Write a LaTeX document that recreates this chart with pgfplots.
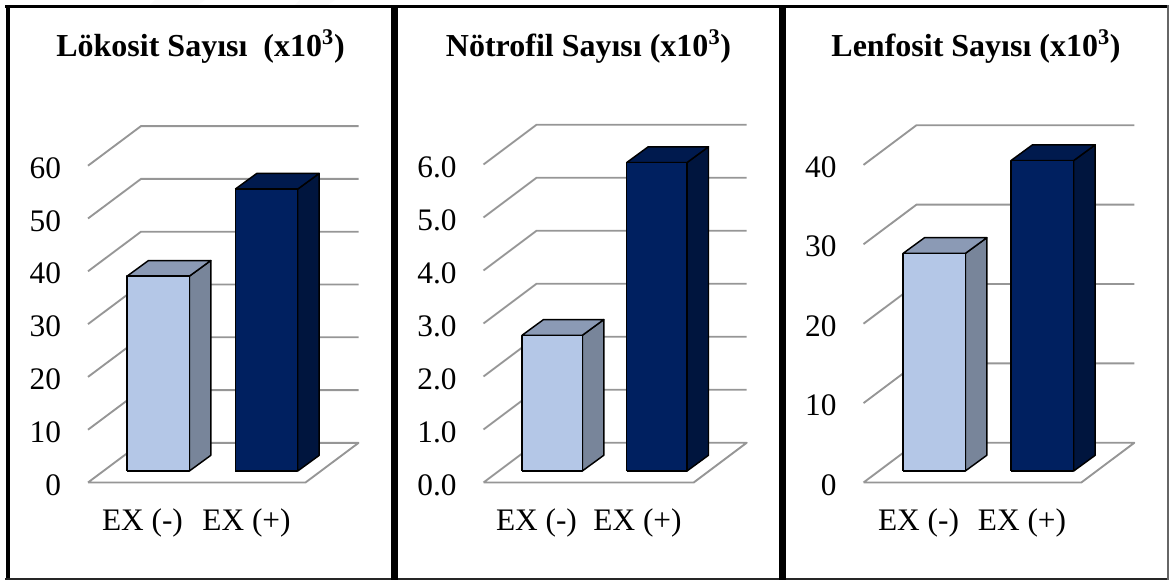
\documentclass[border=0pt]{standalone}
\usepackage{pgfplots}
\pgfplotsset{compat=1.18}
\usepackage{fontspec}
\setmainfont{Liberation Serif}

\definecolor{lightfront}{RGB}{180,199,231}
\definecolor{lightside}{RGB}{120,133,154}
\definecolor{lighttop}{RGB}{139,154,181}
\definecolor{darkfront}{RGB}{0,32,96}
\definecolor{darkside}{RGB}{0,21,62}
\definecolor{darktop}{RGB}{0,26,78}
\definecolor{gridgray}{RGB}{150,150,150}

% Depth of the chart box and of the bars, in drawing units
\newcommand{\wallDX}{53}
\newcommand{\barDX}{21.5}

% Floor of the chart box: argument is the front-left x
\newcommand{\drawFloor}[1]{%
  \pgfmathsetmacro{\xb}{#1+\wallDX}%
  \pgfmathsetmacro{\xc}{#1+\wallW}%
  \pgfmathsetmacro{\xd}{#1+\wallW-\wallDX}%
  \addplot[fill=white,draw=gridgray,line width=1.4pt,line join=round,forget plot]
    coordinates {(#1,0) (\xd,0) (\xc,\wallDY) (\xb,\wallDY) (#1,0)};
}
% One gridline: along the side wall, then along the back wall
\newcommand{\drawGrid}[2]{%
  \pgfmathsetmacro{\xb}{#1+\wallDX}%
  \pgfmathsetmacro{\xc}{#1+\wallW}%
  \pgfmathsetmacro{\gy}{#2+\wallDY}%
  \addplot[draw=gridgray,line width=1.4pt,forget plot]
    coordinates {(#1,#2) (\xb,\gy) (\xc,\gy)};
}
% Box-shaped bar: left x, right x, value, then front, side and top colours
\newcommand{\drawBar}[6]{%
  \pgfmathsetmacro{\ytop}{\barBase+#3}%
  \pgfmathsetmacro{\xr}{#2+\barDX}%
  \pgfmathsetmacro{\xl}{#1+\barDX}%
  \pgfmathsetmacro{\ybb}{\barBase+\barDY}%
  \pgfmathsetmacro{\ytb}{\ytop+\barDY}%
  \addplot[fill=#5,draw=black,line width=1.1pt,line join=round,forget plot]
    coordinates {(#2,\barBase) (\xr,\ybb) (\xr,\ytb) (#2,\ytop) (#2,\barBase)};
  \addplot[fill=#6,draw=black,line width=1.1pt,line join=round,forget plot]
    coordinates {(#1,\ytop) (#2,\ytop) (\xr,\ytb) (\xl,\ytb) (#1,\ytop)};
  \addplot[fill=#4,draw=black,line width=1.1pt,line join=round,forget plot]
    coordinates {(#1,\barBase) (#2,\barBase) (#2,\ytop) (#1,\ytop) (#1,\barBase)};
}

\pgfplotsset{
  panel/.style={
    x=0.75pt,
    anchor=south west,
    clip=false,
    axis line style={draw=none},
    major tick length=0pt,
    xtick pos=lower,
    ytick pos=left,
    no markers,
    tick label style={font=\fontsize{23.5}{26}\selectfont},
    yticklabel style={inner sep=0pt,anchor=east,xshift=-20pt,yshift=-1.8pt},
    xticklabel style={inner sep=0pt,anchor=north,yshift=-19.5pt},
    xticklabels={EX (-),EX (+)},
    /pgf/number format/assume math mode=true,
  },
}

\begin{document}
\begin{tikzpicture}
\path[use as bounding box] (0,0) rectangle (1169*0.75pt,-580*0.75pt);

% Panel frames
\fill[black!2] (155*0.75pt,0) -- (205*0.75pt,0) -- (198*0.75pt,-5*0.75pt) -- (150*0.75pt,-5*0.75pt) -- cycle;
\fill[black!2] (300*0.75pt,0) -- (335*0.75pt,0) -- (328*0.75pt,-5*0.75pt) -- (295*0.75pt,-5*0.75pt) -- cycle;
\fill[black] (5*0.75pt,-5*0.75pt) rectangle (1169*0.75pt,-8*0.75pt);
\fill[black] (5.5*0.75pt,-5*0.75pt) rectangle (10*0.75pt,-580*0.75pt);
\fill[black!85] (5*0.75pt,-578*0.75pt) rectangle (1169*0.75pt,-580*0.75pt);
\fill[black] (391*0.75pt,-5*0.75pt) rectangle (398*0.75pt,-580*0.75pt);
\fill[black] (779*0.75pt,-5*0.75pt) rectangle (786*0.75pt,-580*0.75pt);
\fill[black!60] (1167*0.75pt,-5*0.75pt) rectangle (1168.5*0.75pt,-580*0.75pt);

% Panel titles
\begin{scope}[every node/.style={anchor=base,inner sep=0pt,font=\fontsize{24}{28}\selectfont\bfseries}]
\node at (200.5*0.75pt,-57*0.75pt) {Lökosit Sayısı\ \ (x10\textsuperscript{3})};
\node at (588.5*0.75pt,-57*0.75pt) {Nötrofil Sayısı (x10\textsuperscript{3})};
\node at (976*0.75pt,-57*0.75pt) {Lenfosit Sayısı (x10\textsuperscript{3})};
\end{scope}

% Leukocyte count
\begin{axis}[panel,
  at={(88*0.75pt,-482.5*0.75pt)},
  y=3.96pt,
  xmin=88,xmax=358,ymin=0,ymax=60,
  ytick={0,10,20,30,40,50,60},
  xtick={142.5,246.5}]
  \newcommand{\wallW}{270.5}\newcommand{\wallDY}{7.5}\newcommand{\barDY}{2.97}\newcommand{\barBase}{2.17}
  \drawFloor{88}
  \drawGrid{88}{10}\drawGrid{88}{20}\drawGrid{88}{30}\drawGrid{88}{40}\drawGrid{88}{50}\drawGrid{88}{60}
  \drawBar{127}{189.3}{36.9}{lightfront}{lightside}{lighttop}
  \drawBar{235.3}{297.7}{53.4}{darkfront}{darkside}{darktop}
\end{axis}

% Neutrophil count
\begin{axis}[panel,
  at={(483.5*0.75pt,-482.5*0.75pt)},
  y=39.75pt,
  xmin=483.5,xmax=746.7,ymin=0,ymax=6,
  ytick={0,1,2,3,4,5,6},
  xtick={536.5,637.5},
  yticklabel style={/pgf/number format/fixed,/pgf/number format/fixed zerofill,/pgf/number format/precision=1}]
  \newcommand{\wallW}{263.2}\newcommand{\wallDY}{0.75}\newcommand{\barDY}{0.297}\newcommand{\barBase}{0.217}
  \drawFloor{483.5}
  \drawGrid{483.5}{1}\drawGrid{483.5}{2}\drawGrid{483.5}{3}\drawGrid{483.5}{4}\drawGrid{483.5}{5}\drawGrid{483.5}{6}
  \drawBar{522}{582.3}{2.56}{lightfront}{lightside}{lighttop}
  \drawBar{626.7}{687}{5.82}{darkfront}{darkside}{darktop}
\end{axis}

% Lymphocyte count
\begin{axis}[panel,
  at={(863.5*0.75pt,-482.5*0.75pt)},
  y=5.955pt,
  xmin=863.5,xmax=1134.3,ymin=0,ymax=40,
  ytick={0,10,20,30,40},
  xtick={918.5,1022}]
  \newcommand{\wallW}{270.8}\newcommand{\wallDY}{5}\newcommand{\barDY}{1.98}\newcommand{\barBase}{1.45}
  \drawFloor{863.5}
  \drawGrid{863.5}{10}\drawGrid{863.5}{20}\drawGrid{863.5}{30}\drawGrid{863.5}{40}
  \drawBar{903}{965.3}{27.4}{lightfront}{lightside}{lighttop}
  \drawBar{1011}{1073.7}{39.1}{darkfront}{darkside}{darktop}
\end{axis}
\end{tikzpicture}
\end{document}
